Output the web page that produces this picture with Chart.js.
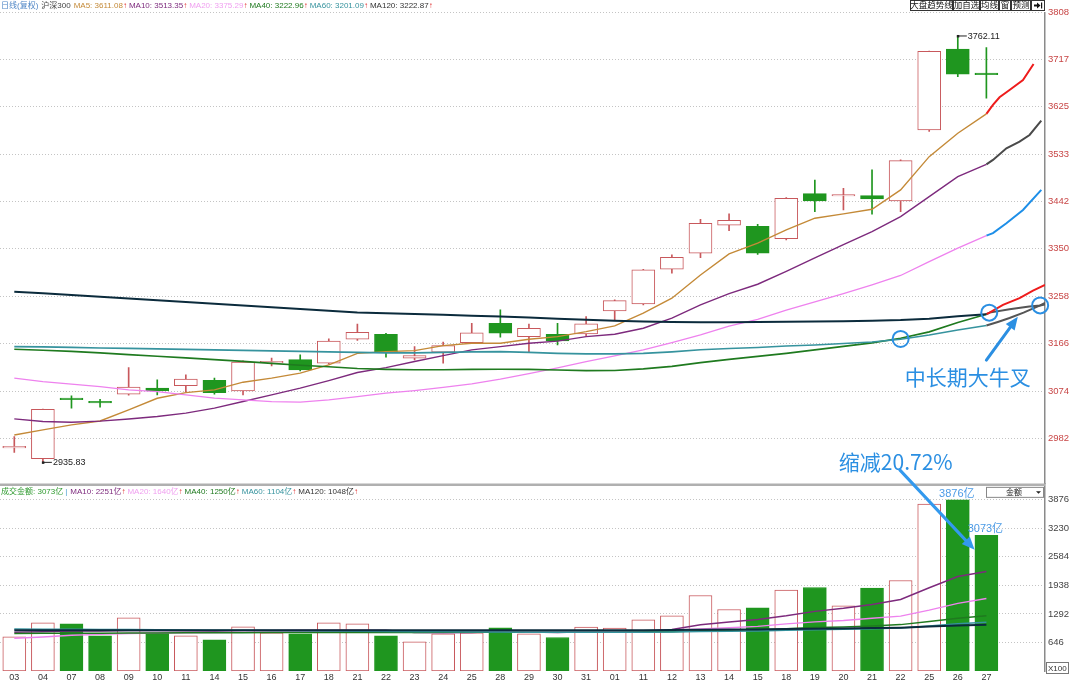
<!DOCTYPE html>
<html><head><meta charset="utf-8">
<script src="https://cdn.jsdelivr.net/npm/chart.js@4.4.0/dist/chart.umd.min.js"></script>
<style>html,body{margin:0;padding:0;background:#fff;}canvas{display:block;}</style>
</head><body>
<canvas id="c" width="1080" height="682"></canvas>
<script>
const dates = ['03','04','07','08','09','10','11','14','15','16','17','18','21','22','23','24','25','28','29','30','31','01','11','12','13','14','15','18','19','20','21','22','25','26','27'];
const opens  = [2964,2943,3059,3053,3068,3079.6,3084.7,3095,3074.4,3128.6,3135,3128,3174.5,3184.2,3137.7,3149.4,3168,3205.5,3179.6,3184.2,3184.8,3229.4,3243,3310.1,3341.1,3395.4,3393.4,3369.4,3456.6,3452,3452.7,3442.5,3580,3736.9,3690];
const highs  = [2986,3039,3065,3058,3119.5,3095.7,3105.4,3099,3132.5,3137.7,3144,3175,3203.6,3186,3160.2,3168.7,3205.5,3231.3,3204,3205.5,3218.3,3251,3310,3337.8,3407,3417.3,3397,3449,3483.1,3467.1,3502.5,3522,3733,3762.11,3739.4];
const lows   = [2955,2935.83,3041,3043,3066,3066.6,3073,3068,3066.6,3122.8,3113,3126,3172,3139.7,3134.4,3128,3166,3178.4,3150.5,3163.5,3181,3212,3241,3302.4,3332.6,3384.9,3339,3367,3421.7,3425,3416.7,3421.7,3577,3683.3,3641.4];
const closes = [2966,3038.5,3057.5,3051,3081.5,3075,3097,3071,3130,3131,3115,3170.7,3188,3149.4,3142.8,3162.1,3186.7,3186.2,3195.8,3171.2,3204.2,3249.3,3308.8,3333.4,3399.3,3405.1,3341.1,3447.7,3442.5,3454,3446.3,3520.5,3732.4,3687.9,3687];

const ma5   = [2989,2998.8,3008.6,3016,3037.6,3060,3071,3076.3,3091.2,3099,3108.7,3124.7,3147,3150.5,3152.4,3162,3166.8,3166.8,3174.5,3179.6,3189.3,3200.3,3224.9,3254,3299,3339.8,3360.5,3386.3,3409,3417.3,3426.4,3463.8,3528.3,3573.6,3611.08];
const ma10  = [3020.1,3015,3013.7,3015.7,3020,3024.6,3031.2,3040.9,3053.7,3066.6,3079.6,3094.3,3110,3119.5,3131.2,3142.8,3153.8,3160.2,3166.8,3170.7,3179.6,3184.2,3195.8,3215.2,3240.9,3263,3281,3306,3332,3358,3383,3412,3450.8,3489.5,3513.35];
const ma20  = [3099,3092.5,3087.4,3082.7,3076.3,3073,3066.6,3060.2,3057,3053.7,3052.5,3057,3063.4,3070,3075,3081,3088,3097,3108,3119,3131,3142,3154,3168,3183,3200,3213,3231,3247,3263,3280,3298,3325,3351,3375.29];
const ma40  = [3155,3153.2,3151,3148,3144.7,3141.6,3138.3,3135,3131.5,3127.6,3124,3121,3117.6,3116,3115.4,3115.4,3116,3116.4,3116,3114.7,3113.7,3114,3117,3121.8,3129.2,3135.4,3141.2,3147,3153.8,3160.6,3167.4,3176.4,3188.7,3207,3222.96];
const ma60  = [3160.2,3159.6,3158.6,3157.6,3156.7,3155.7,3154.8,3153.8,3152.9,3151.9,3151,3150,3149,3148,3148,3149,3150,3150.5,3149,3147,3146,3146,3147,3150,3154.2,3156.5,3158.4,3161.4,3163.3,3166.2,3169,3174.4,3182.7,3192.4,3201.09];
const ma120 = [3266.7,3263.4,3260,3256.7,3253.4,3249.9,3246.6,3243.1,3239.8,3236.5,3233,3229.7,3226.5,3224.9,3223.4,3221.8,3220.2,3218.3,3216.4,3214.3,3212.3,3210.4,3208.8,3207.9,3207.5,3207.5,3207.7,3208.1,3208.6,3209.4,3210.4,3211.6,3214.3,3219.1,3222.87];

// hand-drawn projections after the last session
const ma5ExtX   = [34,34.23,34.46,34.81,35.28,35.65];
const ma5ExtY   = [3611.08,3628.5,3643.4,3657.5,3676.9,3707.8];
const ma10ExtX  = [34,34.23,34.7,35.16,35.51,35.92];
const ma10ExtY  = [3513.35,3521.9,3544.5,3557.3,3570.3,3598];
const ma20ExtX  = [34,34.23,34.7,35.28,35.92];
const ma20ExtY  = [3375.29,3380,3399.3,3425,3463.8];
const ma40ExtX  = [34,34.11,34.58,35.16,35.63,36.05];
const ma40ExtY  = [3222.96,3226,3241,3254,3268.7,3279.7];
const ma60ExtX  = [34,34.4,34.81,35.3,35.88,36.05];
const ma60ExtY  = [3201.09,3208,3215.5,3226,3240,3245];
const ma120ExtX = [34,34.11,34.81,35.5,35.88,36.05];
const ma120ExtY = [3222.87,3226,3232.7,3238,3240,3242];

const volumes  = [774,1091,1068,797,1204,865,797,706,1000,865,842,1091,1068,797,661,842,865,978,842,758,994,971,1159,1249,1709,1392,1430,1831,1890,1476,1876,2049,3778,3876,3073];
const volMa10  = [880,890,905,905,915,915,910,905,915,917,924,924,924,924,869,867,874,901,885,874,890,878,890,940,1045,1110,1165,1250,1350,1420,1505,1620,1885,2140,2251];
const volMa20  = [740,770,810,830,850,860,865,868,875,880,882,885,888,890,890,890,892,895,895,896,907,901,905,928,953,979,1011,1067,1112,1142,1194,1242,1377,1531,1640];
const volMa40  = [850,852,855,857,860,862,864,866,868,870,871,872,873,874,874,875,876,877,878,878,879,880,881,890,910,922,935,958,983,997,1021,1050,1122,1196,1250];
const volMa60  = [950,948,945,942,940,935,930,925,920,915,910,905,900,895,890,887,884,882,880,878,876,875,877,881,893,899,906,920,935,943,958,975,1021,1069,1104];
const volMa120 = [925,925,924,924,923,923,922,922,921,921,920,920,920,920,920,920,920,920,920,921,921,922,924,927,934,938,942,950,958,963,971,981,1005,1030,1048];

const priceTicks  = [2982,3074,3166,3258,3350,3442,3533,3625,3717,3808];
const volumeTicks = [646,1292,1938,2584,3230,3876];

const RED = '#c8585c', GREEN = '#1f961f';
const C_MA5 = '#c48a38', C_MA10 = '#7d2a7d', C_MA20 = '#ee82ee', C_MA40 = '#1f7a1f', C_MA60 = '#36939e', C_MA120 = '#0b2b3c';
const BLUE = '#2b8fe2';
const FONT = '"Liberation Sans","Noto Sans CJK SC",sans-serif';

const up = closes.map((c, i) => c >= opens[i]);
const last = a => a[a.length - 1];

function lineDs(xs, ys, color, width, axis) {
  return { type: 'line', data: ys.map((v, i) => ({ x: xs[i], y: v })), borderColor: color, borderWidth: width,
           pointRadius: 0, tension: 0, fill: false, yAxisID: axis, order: 1 };
}
const idx = dates.map((d, i) => i);

const datasets = [
  { type: 'bar', data: idx.map(i => ({ x: i, y: [lows[i], highs[i]] })), yAxisID: 'y', order: 6, grouped: false,
    backgroundColor: idx.map(i => up[i] ? RED : GREEN), borderWidth: 0, barThickness: 1 },
  { type: 'bar', data: idx.map(i => ({ x: i, y: [opens[i], closes[i]] })), yAxisID: 'y', order: 5, grouped: false,
    backgroundColor: idx.map(i => up[i] ? '#ffffff' : GREEN), borderColor: idx.map(i => up[i] ? RED : GREEN),
    borderWidth: 1, borderSkipped: false, barThickness: 23, minBarLength: 1.5 },
  { type: 'bar', data: idx.map(i => ({ x: i, y: volumes[i] })), yAxisID: 'yv', order: 5, grouped: false,
    backgroundColor: idx.map(i => up[i] ? '#ffffff' : GREEN), borderColor: idx.map(i => up[i] ? RED : GREEN),
    borderWidth: 1, borderSkipped: false, barThickness: 23 },
  lineDs(idx, ma120, C_MA120, 2, 'y'),
  lineDs(idx, ma60, C_MA60, 1.6, 'y'),
  lineDs(idx, ma40, C_MA40, 1.6, 'y'),
  lineDs(idx, ma20, C_MA20, 1.3, 'y'),
  lineDs(idx, ma10, C_MA10, 1.4, 'y'),
  lineDs(idx, ma5, C_MA5, 1.4, 'y'),
  lineDs(ma5ExtX, ma5ExtY, '#ee1c1c', 2, 'y'),
  lineDs(ma10ExtX, ma10ExtY, '#4a4a4a', 2, 'y'),
  lineDs(ma20ExtX, ma20ExtY, '#1e8fe8', 2, 'y'),
  lineDs(ma40ExtX, ma40ExtY, '#ee1c1c', 2, 'y'),
  lineDs(ma60ExtX, ma60ExtY, '#555555', 2, 'y'),
  lineDs(ma120ExtX, ma120ExtY, '#555555', 2, 'y'),
  lineDs(idx, volMa120, C_MA120, 2, 'yv'),
  lineDs(idx, volMa60, C_MA60, 1.5, 'yv'),
  lineDs(idx, volMa40, C_MA40, 1.5, 'yv'),
  lineDs(idx, volMa20, C_MA20, 1.4, 'yv'),
  lineDs(idx, volMa10, C_MA10, 1.5, 'yv'),
];

function drawSegs(ctx, segs, x, y, font) {
  ctx.font = font; ctx.textBaseline = 'middle'; ctx.textAlign = 'left';
  for (const s of segs) {
    ctx.fillStyle = s[1]; ctx.fillText(s[0], x, y);
    x += ctx.measureText(s[0]).width + (s[2] || 0);
  }
}
function arrow(ctx, x1, y1, x2, y2, color, w, head) {
  const a = Math.atan2(y2 - y1, x2 - x1);
  const bx = x2 - head * Math.cos(a), by = y2 - head * Math.sin(a);
  ctx.strokeStyle = color; ctx.lineWidth = w; ctx.lineCap = 'round';
  ctx.beginPath(); ctx.moveTo(x1, y1); ctx.lineTo(bx, by); ctx.stroke();
  ctx.fillStyle = color; ctx.beginPath(); ctx.moveTo(x2, y2);
  const hw = head * 0.42;
  ctx.lineTo(bx + hw * Math.sin(a), by - hw * Math.cos(a));
  ctx.lineTo(bx - hw * Math.sin(a), by + hw * Math.cos(a));
  ctx.closePath(); ctx.fill();
}

const overlay = {
  id: 'overlay',
  afterDraw(chart) {
    const ctx = chart.ctx, xs = chart.scales.x, ys = chart.scales.y, yv = chart.scales.yv;
    const ca = chart.chartArea;
    ctx.save();
    // panel separator
    ctx.strokeStyle = '#b0b0b0'; ctx.lineWidth = 2.5;
    ctx.beginPath(); ctx.moveTo(0, ys.bottom + 1); ctx.lineTo(ca.right, ys.bottom + 1); ctx.stroke();

    // top legend
    const f8 = '8px ' + FONT;
    const upA = '#e03030';
    drawSegs(ctx, [
      ['日线(复权)', '#4f86c6', 3], ['沪深300', '#444', 3],
      ['MA5: ' + last(ma5).toFixed(2), C_MA5], ['↑', upA, 2],
      ['MA10: ' + last(ma10).toFixed(2), C_MA10], ['↑', upA, 2],
      ['MA20: ' + last(ma20).toFixed(2), '#f0a0f0'], ['↑', upA, 2],
      ['MA40: ' + last(ma40).toFixed(2), C_MA40], ['↑', upA, 2],
      ['MA60: ' + last(ma60).toFixed(2), C_MA60], ['↑', upA, 2],
      ['MA120: ' + last(ma120).toFixed(2), '#333'], ['↑', upA, 2]
    ], 1, 5.5, f8);

    // volume legend
    drawSegs(ctx, [
      ['成交金额: ' + last(volumes) + '亿', '#2f9a2f', 2], ['|', '#4aa0d0', 3],
      ['MA10: ' + last(volMa10) + '亿', C_MA10], ['↑', upA, 2],
      ['MA20: ' + last(volMa20) + '亿', '#f0a0f0'], ['↑', upA, 2],
      ['MA40: ' + last(volMa40) + '亿', C_MA40], ['↑', upA, 2],
      ['MA60: ' + last(volMa60) + '亿', C_MA60], ['↑', upA, 2],
      ['MA120: ' + last(volMa120) + '亿', '#333'], ['↑', upA, 2]
    ], 1, ys.bottom + 8, f8);

    // toolbar
    ctx.font = '8.5px ' + FONT; ctx.textBaseline = 'middle'; ctx.textAlign = 'center';
    const tb = [['大盘趋势线', 910, 953], ['加自选', 953, 980], ['均线', 980, 999], ['窗', 999, 1011], ['预测', 1011, 1031]];
    ctx.lineWidth = 1; ctx.strokeStyle = '#333';
    for (const [t, a, b] of tb) {
      ctx.fillStyle = '#fff'; ctx.fillRect(a, 0, b - a, 11);
      ctx.strokeRect(a + 0.5, 0.5, b - a - 1, 10);
      ctx.fillStyle = '#111'; ctx.fillText(t, (a + b) / 2, 6);
    }
    ctx.fillStyle = '#fff'; ctx.fillRect(1031, 0, 14, 11); ctx.strokeRect(1031.5, 0.5, 13, 10);
    ctx.fillStyle = '#111'; ctx.beginPath(); ctx.moveTo(1034, 4.5); ctx.lineTo(1037, 4.5); ctx.lineTo(1037, 2.5); ctx.lineTo(1040.5, 5.5);
    ctx.lineTo(1037, 8.5); ctx.lineTo(1037, 6.5); ctx.lineTo(1034, 6.5); ctx.closePath(); ctx.fill();
    ctx.fillRect(1041, 2.5, 1.2, 6);

    // amount dropdown
    const dy = ys.bottom + 3;
    ctx.fillStyle = '#fff'; ctx.fillRect(986, dy, 58, 11);
    ctx.strokeStyle = '#888'; ctx.strokeRect(986.5, dy + 0.5, 57, 10);
    ctx.fillStyle = '#222'; ctx.font = '8px ' + FONT; ctx.textAlign = 'center'; ctx.fillText('金额', 1014, dy + 6);
    ctx.beginPath(); ctx.moveTo(1036, dy + 4.5); ctx.lineTo(1041, dy + 4.5); ctx.lineTo(1038.5, dy + 7); ctx.closePath(); ctx.fill();

    // X100 box
    ctx.strokeStyle = '#777'; ctx.strokeRect(1046.5, ca.bottom - 8.5, 22, 11);
    ctx.fillStyle = '#333'; ctx.font = '8px ' + FONT; ctx.textAlign = 'left'; ctx.fillText('X100', 1048, ca.bottom - 2.5);

    // high / low markers
    ctx.font = '9px ' + FONT; ctx.textAlign = 'left'; ctx.textBaseline = 'middle';
    const hi = 33, lo = 1;
    let hx = xs.getPixelForValue(hi), hy = ys.getPixelForValue(highs[hi]);
    ctx.strokeStyle = '#222'; ctx.lineWidth = 1;
    ctx.beginPath(); ctx.moveTo(hx, hy); ctx.lineTo(hx + 9, hy); ctx.stroke();
    ctx.fillStyle = '#222'; ctx.fillRect(hx - 1, hy - 1, 2.5, 2.5);
    ctx.fillText(highs[hi].toFixed(2), hx + 10, hy + 0.5);
    let lx = xs.getPixelForValue(lo), ly = ys.getPixelForValue(lows[lo]);
    ctx.beginPath(); ctx.moveTo(lx, ly); ctx.lineTo(lx + 9, ly); ctx.stroke();
    ctx.fillRect(lx - 1, ly - 1, 2.5, 2.5);
    ctx.fillText(lows[lo].toFixed(2), lx + 10, ly + 0.5);

    // golden cross annotations
    ctx.strokeStyle = BLUE; ctx.lineWidth = 2;
    for (const [cx, cy] of [[31, 3175], [34.1, 3226], [35.88, 3240]]) {
      ctx.beginPath(); ctx.arc(xs.getPixelForValue(cx), ys.getPixelForValue(cy), 8, 0, Math.PI * 2); ctx.stroke();
    }
    arrow(ctx, xs.getPixelForValue(34.0), ys.getPixelForValue(3134), xs.getPixelForValue(35.1), ys.getPixelForValue(3218), BLUE, 3, 13);
    ctx.fillStyle = BLUE; ctx.font = '21px "Noto Sans CJK SC",sans-serif'; ctx.textAlign = 'center'; ctx.textBaseline = 'middle';
    ctx.fillText('中长期大牛叉', xs.getPixelForValue(33.35), ys.getPixelForValue(3101.5));

    // volume annotation
    ctx.fillText('缩减20.72%', xs.getPixelForValue(30.83), yv.getPixelForValue(4735));
    arrow(ctx, xs.getPixelForValue(30.97), yv.getPixelForValue(4554), xs.getPixelForValue(33.59), yv.getPixelForValue(2743), '#3399ee', 3, 13);
    ctx.font = '11px ' + FONT; ctx.fillStyle = '#4a9ae6'; ctx.textBaseline = 'bottom';
    ctx.fillText(volumes[33] + '亿', xs.getPixelForValue(33) - 1, yv.getPixelForValue(volumes[33]));
    ctx.fillText(volumes[34] + '亿', xs.getPixelForValue(34) - 1, yv.getPixelForValue(volumes[34]) - 1);
    ctx.restore();
  }
};

const yCommon = {
  type: 'linear', position: 'right', stack: 'panels', bounds: 'data',
  grid: { color: '#c4c4c4', lineWidth: 1, drawTicks: false },
  border: { display: true, color: '#8a8a8a', width: 1.5, dash: [1, 2] },
  afterFit: s => { s.width = 35; }
};

new Chart(document.getElementById('c'), {
  data: { datasets },
  options: {
    responsive: false, animation: false, devicePixelRatio: 1, events: [],
    layout: { padding: { top: 12.3, left: 0, right: 0, bottom: 0 } },
    plugins: { legend: { display: false }, tooltip: { enabled: false } },
    scales: {
      x: {
        type: 'linear', min: -0.5, max: 36.05, offset: false,
        grid: { display: false, drawTicks: false }, border: { display: false },
        afterBuildTicks: s => { s.ticks = idx.map(i => ({ value: i })); },
        ticks: { autoSkip: false, maxRotation: 0, padding: 1, color: '#333', font: { size: 9, family: FONT },
                 callback: v => dates[v] !== undefined ? dates[v] : '' },
        afterFit: s => { s.height = 11; }
      },
      y: Object.assign({}, yCommon, {
        stackWeight: 471.7, min: 2894.2, max: 3808,
        afterBuildTicks: s => { s.ticks = priceTicks.map(v => ({ value: v })); },
        ticks: { color: '#c84646', padding: 3, font: { size: 9.5, family: FONT }, callback: v => String(v) }
      }),
      yv: Object.assign({}, yCommon, {
        stackWeight: 187.2, min: 0, max: 4237,
        afterBuildTicks: s => { s.ticks = volumeTicks.map(v => ({ value: v })); },
        ticks: { color: '#444', padding: 3, font: { size: 9.5, family: FONT }, callback: v => String(v) }
      })
    }
  },
  plugins: [overlay]
});
</script>
</body></html>
